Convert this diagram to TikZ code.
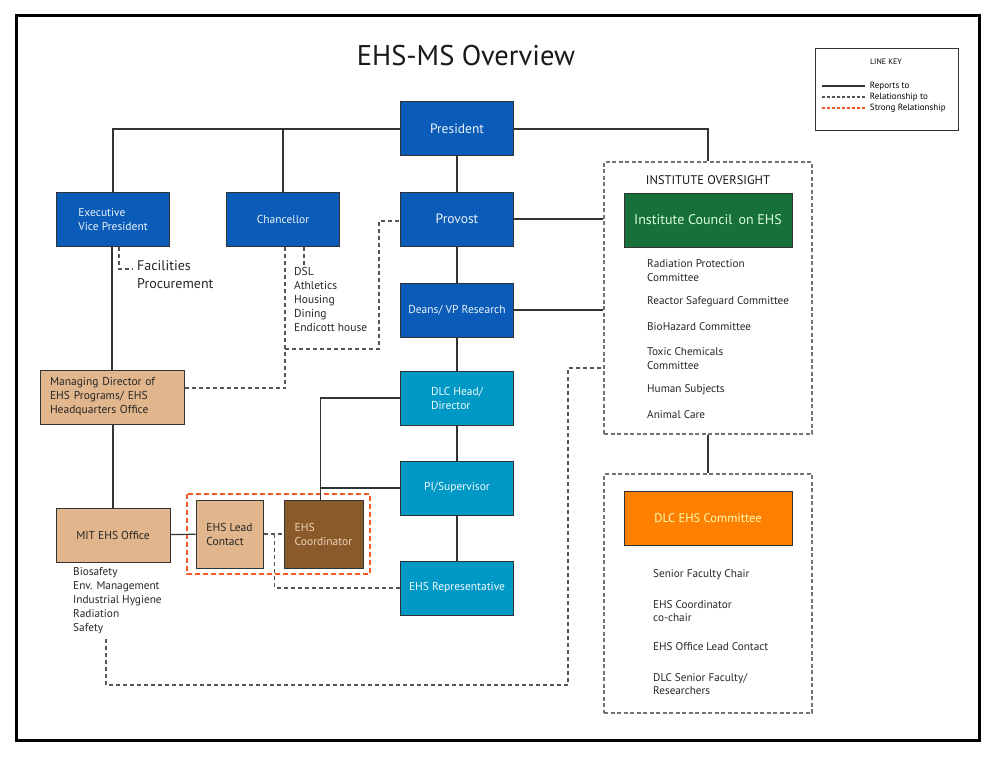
\documentclass[tikz,border=0pt]{standalone}
\usepackage{fontspec}
\setmainfont{PT Sans}
\usetikzlibrary{positioning}
\definecolor{ehsblue}{HTML}{0A5CB8}
\definecolor{ehscyan}{HTML}{0099C6}
\definecolor{ehstan}{HTML}{E2B68C}
\definecolor{ehsbrown}{HTML}{8A5A2A}
\definecolor{ehsgreen}{HTML}{17703A}
\definecolor{ehsorange}{HTML}{FF8000}
\definecolor{ehsline}{HTML}{333333}
\definecolor{ehsdash}{HTML}{555555}
\definecolor{ehsred}{HTML}{F05A28}

\begin{document}
\begin{tikzpicture}[x=1pt,y=-1pt]
 \tikzset{box/.style={draw=ehsline, line width=1pt, minimum width=113pt, minimum height=54pt, inner sep=2pt, align=left, font=\fontsize{11.5}{14}\selectfont}}
 \tikzset{bluebox/.style={box, fill=ehsblue, text=white!92!ehsblue}}
 \tikzset{cyanbox/.style={box, fill=ehscyan, text=white!95!ehscyan}}
 \tikzset{tanbox/.style={box, fill=ehstan, text=black!85}}
 \tikzset{groupbox/.style={draw=black!55, line width=1.2pt, dash pattern=on 4pt off 2.5pt, minimum width=208pt}}
 \tikzset{listtext/.style={anchor=west, align=left, inner sep=2pt, text=black!85, font=\fontsize{11.2}{13.5}\selectfont}}
 \tikzset{keytext/.style={right=1pt, text=black, font=\fontsize{9}{10}\selectfont}}
 \tikzset{reports/.style={draw=ehsline, line width=1.2pt}}
 \tikzset{relation/.style={draw=ehsdash, line width=1.4pt, dash pattern=on 4pt off 3pt}}
 \tikzset{strong/.style={draw=ehsred, line width=1.2pt, dash pattern=on 5pt off 3pt}}
  \useasboundingbox (0,0) rectangle (996,757);
  \draw[line width=3pt] (16,16) rectangle (979,740);
  \node[font=\fontsize{28.5}{32}\selectfont, text=black!90] (title) at (466,56) {EHS-MS Overview};
  % line key
  \node[draw=black!80, line width=0.8pt, minimum width=143pt, minimum height=82pt] (key) at (886.5,89) {};
  \node[font=\fontsize{8}{9}\selectfont] (keyhead) at (886,62) {LINE KEY};
  \coordinate (k1) at (822,86);
  \coordinate (k2) at (822,97);
  \coordinate (k3) at (822,108);
  \draw[reports, line width=1.2pt] (k1) -- ++(43,0) node[keytext] {Reports to};
  \draw[relation, line width=1.2pt, dash pattern=on 3pt off 2pt] (k2) -- ++(43,0) node[keytext] {Relationship to};
  \draw[strong, line width=1.3pt, dash pattern=on 3pt off 2pt] (k3) -- ++(43,0) node[keytext] {Strong Relationship};
  % main chain
  \node[bluebox, font=\fontsize{13.5}{15}\selectfont] (pres) at (457,129) {President};
  \node[bluebox, font=\fontsize{13.5}{15}\selectfont] (provost) at (457,219) {Provost};
  \node[bluebox] (deans) at (457,310) {Deans/ VP Research};
  \node[cyanbox] (dlchead) at (457,398) {DLC Head/\\Director};
  \node[cyanbox] (pisup) at (457,488) {PI/Supervisor};
  \node[cyanbox] (ehsrep) at (457,588) {EHS Representative};
  \node[bluebox] (evp) at (113,219) {Executive\\Vice President};
  \node[bluebox] (chanc) at (283,219) {Chancellor};
  \node[tanbox, minimum width=144pt, text width=124pt, inner xsep=10pt] (mdir) at (112,397) {Managing Director of\\EHS Programs/ EHS\\Headquarters Office};
  \node[tanbox, minimum width=114pt] (mitehs) at (113,535) {MIT EHS Office};
  \node[tanbox, minimum width=67pt, minimum height=68pt] (leadc) at (229.5,534) {EHS Lead\\Contact};
  \node[box, fill=ehsbrown, text=ehstan!60, minimum width=79pt, minimum height=68pt] (coord) at (323.5,534) {EHS\\Coordinator};
  \draw[strong] (187,494) rectangle (370,574);
  % side texts
  \node[anchor=north west, align=left, inner sep=2pt, text=black!85, font=\fontsize{14}{18}\selectfont] (facil) at (135,258) {Facilities\\Procurement};
  \node[anchor=north west, align=left, inner sep=2pt, text=black!85, font=\fontsize{11.5}{14}\selectfont] (chanclist) at (292,265) {DSL\\Athletics\\Housing\\Dining\\Endicott house};
  \node[anchor=north west, align=left, inner sep=2pt, text=black!85, font=\fontsize{11.3}{14}\selectfont] (mitlist) at (71,565) {Biosafety\\Env. Management\\Industrial Hygiene\\Radiation\\Safety};
  % institute oversight
  \node[groupbox, minimum height=272pt] (oversight) at (708,298) {};
  \node[text=black!90, font=\fontsize{12.5}{14}\selectfont] (iohead) at (708,180) {INSTITUTE OVERSIGHT};
  \node[box, fill=ehsgreen, text=green!15, minimum width=168pt, font=\fontsize{14}{16}\selectfont] (council) at (708,220) {Institute Council\, on EHS};
  \node[listtext] (c1) at (645,270.5) {Radiation Protection\\Committee};
  \node[listtext] (c2) at (645,302) {Reactor Safeguard Committee};
  \node[listtext] (c3) at (645,327) {BioHazard Committee};
  \node[listtext] (c4) at (645,358.5) {Toxic Chemicals\\Committee};
  \node[listtext] (c5) at (645,390) {Human Subjects};
  \node[listtext] (c6) at (645,415) {Animal Care};
  % dlc committee
  \node[groupbox, minimum height=239pt] (dlcbox) at (708,593.5) {};
  \node[box, fill=ehsorange, text=yellow!30, minimum width=168pt, font=\fontsize{12.5}{14}\selectfont] (dlccom) at (708,518) {DLC EHS Committee};
  \node[listtext] (d1) at (651,575) {Senior Faculty Chair};
  \node[listtext] (d2) at (651,611) {EHS Coordinator\\co-chair};
  \node[listtext] (d3) at (651,647) {EHS Office Lead Contact};
  \node[listtext] (d4) at (651,684) {DLC Senior Faculty/\\Researchers};
  % reports to
  \draw[reports] (evp.north) |- (pres.west);
  \draw[reports] (chanc.north) -- (chanc.north |- pres.west);
  \draw[reports] (pres.east) -| (oversight.north);
  \draw[reports] (pres) -- (provost);
  \draw[reports] (provost) -- (deans);
  \draw[reports] (deans) -- (dlchead);
  \draw[reports] (dlchead) -- (pisup);
  \draw[reports] (pisup) -- (ehsrep);
  \draw[reports] (provost.east) -- (provost.east -| oversight.west);
  \draw[reports] (deans.east) -- (deans.east -| oversight.west);
  \draw[reports] ([xshift=-1pt]evp.south) -- ([xshift=-1pt]evp.south |- mdir.north);
  \draw[reports] (mdir.south -| mitehs.north) -- (mitehs.north);
  \draw[reports] (mitehs) -- (leadc);
  \draw[reports] (dlchead.west) -| ([xshift=-3pt]coord.north);
  \draw[reports] (pisup.west) -- ([xshift=-3pt]coord.north |- pisup.west);
  \draw[reports] (oversight.south) -- (dlcbox.north);
  % relationships
  \draw[relation] ([xshift=6pt]evp.south) |- ([xshift=-3pt,yshift=-11pt]facil.north west);
  \draw[relation] ([xshift=21pt]chanc.south) -- ([xshift=21pt]chanc.south |- chanclist.north);
  \draw[relation] ([yshift=9pt]mdir.east) -| ([xshift=2pt]chanc.south);
  \coordinate (bend) at (285,349);
  \draw[relation] (bend) -| ([xshift=-21pt,yshift=-2pt]provost.west) -- ([yshift=-2pt]provost.west);
  \draw[relation] (leadc.east) -- (coord.west);
  \draw[relation] ([xshift=11pt]leadc.east) |- (ehsrep.west);
  \draw[relation] ([xshift=35pt,yshift=-3pt]mitlist.south west) |- (568,685) |- ([yshift=-70pt]oversight.west);
\end{tikzpicture}
\end{document}
